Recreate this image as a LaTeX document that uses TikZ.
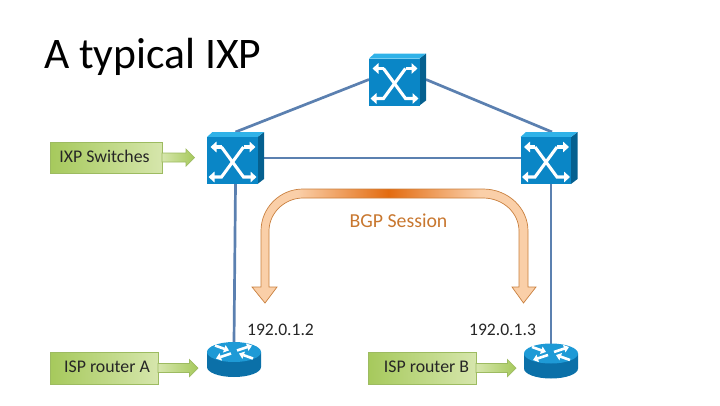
\documentclass[tikz,border=0pt]{standalone}
\usepackage{fontspec}
\setmainfont{Carlito}
\usetikzlibrary{arrows.meta,calc}
\definecolor{linkblue}{HTML}{5B80B0}
\definecolor{swfront}{HTML}{0A86C6}
\definecolor{swtop}{HTML}{30B2E8}
\definecolor{swside}{HTML}{05608F}
\definecolor{rttop}{HTML}{1E9AD6}
\definecolor{rtbody}{HTML}{0B70A8}
\definecolor{glight}{HTML}{D6E6AC}
\definecolor{gdark}{HTML}{A6C95C}
\definecolor{gedge}{HTML}{9DBB61}
\definecolor{bgpedge}{HTML}{C9803F}
\definecolor{bgptext}{HTML}{C8772F}
\pgfdeclarehorizontalshading{bgpshade}{100bp}{
 rgb(0bp)=(0.98,0.81,0.66);
 rgb(33bp)=(0.98,0.81,0.66);
 rgb(49bp)=(0.89,0.42,0.06);
 rgb(65bp)=(0.98,0.81,0.66);
 rgb(100bp)=(0.98,0.81,0.66)}
\tikzset{
 x=1pt,y=-1pt,
 link/.style={draw=linkblue,line width=2.7pt},
 devbox/.style={inner sep=0pt,outer sep=0pt,rectangle},
 swbox/.style={devbox,minimum width=57pt,minimum height=52pt},
 rtbox/.style={devbox,minimum width=54pt,minimum height=35pt},
 swline/.style={draw=white,line width=3.1pt,line join=miter,-{Triangle[length=6pt,width=10.5pt]}},
 rtline/.style={draw=white,line width=2.6pt,-{Triangle[length=5pt,width=7.5pt]}},
 tag/.style={devbox,draw=gedge,line width=.7pt,left color=gdark,right color=glight,font=\fontsize{17.8}{18}\selectfont,text=black!85,text height=12pt,text depth=3pt},
 tagarrow/.style={draw=gedge,line width=.7pt,left color=glight,right color=gdark,line join=miter},
 lbl/.style={inner sep=0pt,font=\fontsize{17.6}{18}\selectfont,text=black!85},
}
\newcommand{\swicon}[1]{%
 \begin{scope}[shift={(#1.center)}]
  \fill[swside] (22,-21)--(28.5,-26)--(28.5,21)--(22,26)--cycle;
  \fill[swtop] (-28.5,-21)--(-23,-26)--(28.5,-26)--(22,-21)--cycle;
  \fill[swfront] (-28.5,-21) rectangle (22,26);
  \draw[swline] (-14,-11)--(8,19)--(21,19);
  \draw[swline] (-14,-11)--(-25,-11);
  \draw[swline] (8,-11)--(-14,19)--(-27,19);
  \draw[swline] (8,-11)--(20,-11);
 \end{scope}}
\newcommand{\rticon}[1]{%
 \begin{scope}[shift={(#1.center)}]
  \fill[rtbody] (-27,-7.5)--(-27,7.5) .. controls (-27,13) and (-15,17.5) .. (0,17.5) .. controls (15,17.5) and (27,13) .. (27,7.5)--(27,-7.5)--cycle;
  \fill[rttop] (0,-7.5) ellipse[x radius=27,y radius=10];
  \draw[rtline] (-19,-14)--(-5,-9);
  \draw[rtline] (-3,-6)--(-18,-1);
  \draw[rtline] (3,-9)--(18,-14);
  \draw[rtline] (19,-1)--(5,-6);
 \end{scope}}
\newcommand{\tagarrow}[2]{%
 \path[tagarrow] ($(#1.east)+(0,-4.5)$) -- ++(#2-8.5,0) -- ++(0,-4) -- ($(#1.east)+(#2,0)$) -- ($(#1.east)+(#2-8.5,8.5)$) -- ++(0,-4) -- ($(#1.east)+(0,4.5)$) -- cycle;}
\begin{document}
\begin{tikzpicture}
\useasboundingbox (0,0) rectangle (720,405);
\node[devbox,anchor=base west,font=\fontsize{43.6}{44}\selectfont,text=black] (title) at (44,68) {A typical IXP};
% devices
\node[swbox] (swL) at (235.5,158) {};
\node[swbox] (swT) at (397.5,79.5) {};
\node[swbox] (swR) at (549,158) {};
\node[rtbox] (rtA) at (234,359.5) {};
\node[rtbox] (rtB) at (551,361) {};
% links
\draw[link] (swL.north) -- (swT.west);
\draw[link] (swT.east) -- ([xshift=3pt]swR.north);
\draw[link] (swL.east) -- (swR.west);
\draw[link] (swL.south) -- (rtA.north);
\draw[link] ([xshift=2pt]swR.south) -- (rtB.north);
\swicon{swL}\swicon{swT}\swicon{swR}
\rticon{rtA}\rticon{rtB}
% BGP arrow
\path[draw=bgpedge,line width=.7pt,shading=bgpshade]
 (261,287) -- (261,231) .. controls (261,207.8) and (279.8,189) .. (303,189) -- (483,189)
 .. controls (507.9,189) and (528,207.8) .. (528,231) -- (528,287) -- (536,287) -- (523.5,303) -- (512,287) -- (519,287) -- (519,231)
 .. controls (519,212.8) and (502.9,198) .. (483,198) -- (303,198)
 .. controls (284.8,198) and (269,212.8) .. (269,231) -- (269,287) -- (277,287) -- (265,303) -- (252,287) -- cycle;
\node[lbl,text=bgptext,font=\fontsize{19.8}{20}\selectfont] (bgp) at (398.5,221) {BGP Session};
\node[lbl] (ipA) at (280.5,330) {192.0.1.2};
\node[lbl] (ipB) at (502.5,330) {192.0.1.3};
% tags
\node[tag,minimum width=112pt,minimum height=31pt] (tagS) at (106,157.5) {IXP Switches\hspace*{3pt}};
\tagarrow{tagS}{32.5}
\node[tag,minimum width=108pt,minimum height=32pt] (tagA) at (104,368) {\hspace*{6pt}ISP router A};
\tagarrow{tagA}{40}
\node[tag,minimum width=108pt,minimum height=32pt] (tagB) at (422,368) {\hspace*{9pt}ISP router B};
\tagarrow{tagB}{40}
\end{tikzpicture}
\end{document}
